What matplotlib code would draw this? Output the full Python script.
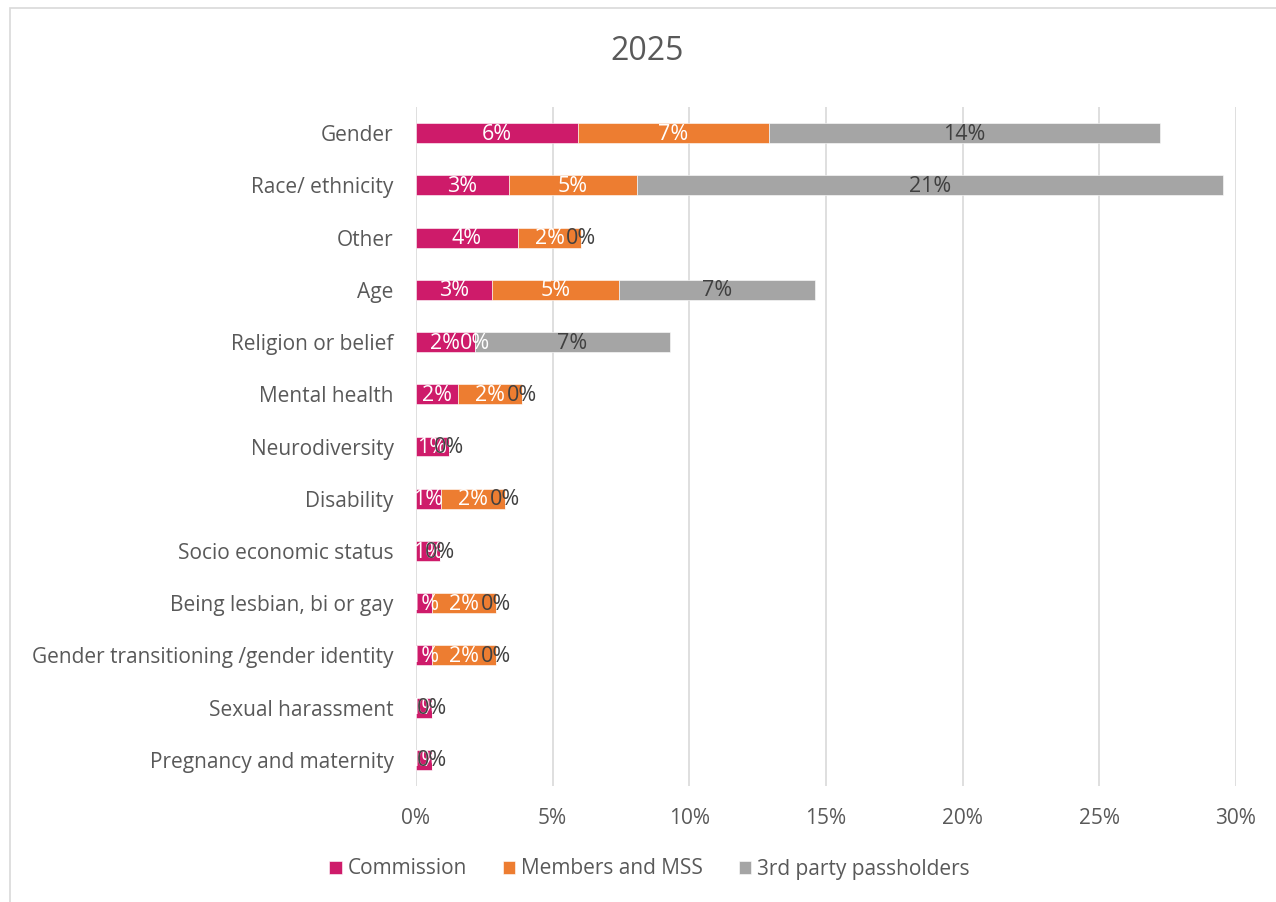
import numpy as np
import matplotlib
matplotlib.use('Agg')
import matplotlib.pyplot as plt
from matplotlib.patches import Rectangle
from matplotlib.ticker import FuncFormatter

plt.rcParams['font.family'] = ['Open Sans', 'DejaVu Sans']

# ─── Data (percent) ──────────────────────────────────────────────────────────
categories = ["Gender", "Race/ ethnicity", "Other", "Age", "Religion or belief",
              "Mental health", "Neurodiversity", "Disability", "Socio economic status",
              "Being lesbian, bi or gay", "Gender transitioning /gender identity",
              "Sexual harassment", "Pregnancy and maternity"]
commission = [5.93, 3.40, 3.73, 2.78, 2.15, 1.54, 1.21, 0.90, 0.89, 0.57, 0.57, 0.60, 0.60]
members = [6.99, 4.67, 2.32, 4.65, 0.0, 2.33, 0.0, 2.34, 0.0, 2.34, 2.34, 0.0, 0.0]
third_party = [14.30, 21.45, 0.0, 7.17, 7.16, 0.0, 0.0, 0.0, 0.0, 0.0, 0.0, 0.0, 0.0]

series = [("Commission", commission, '#CE1B6A', 'white'),
          ("Members and MSS", members, '#ED7D31', 'white'),
          ("3rd party passholders", third_party, '#A5A5A5', '#404040')]

TXT = '#595959'
GRID = '#D9D9D9'

W, H = 1276, 902
fig = plt.figure(figsize=(W / 100, H / 100), dpi=100)
ax = fig.add_axes([416 / W, 1 - 786 / H, 820 / W, 679 / H])

y = np.arange(len(categories))
left = np.zeros(len(categories))
for name, vals, col, tcol in series:
    vals = np.array(vals)
    ax.barh(y, vals, left=left, height=0.38, color=col, edgecolor='white',
            linewidth=0.4, label=name, zorder=2)
    for yi, (l, v) in enumerate(zip(left, vals)):
        ax.text(l + v / 2, yi + 0.02, f"{v:.0f}%", ha='center', va='center',
                fontsize=15.5, color=tcol, zorder=5)
    left = left + vals

ax.set_xlim(0, 30)
ax.set_ylim(len(categories) - 0.5, -0.5)
ax.set_xticks(np.arange(0, 31, 5))
ax.xaxis.set_major_formatter(FuncFormatter(lambda v, p: f"{v:.0f}%"))
ax.set_yticks(y)
ax.set_yticklabels(categories)
ax.tick_params(axis='both', length=0, labelsize=15, labelcolor=TXT)
ax.tick_params(axis='y', pad=16)
ax.tick_params(axis='x', pad=16)
ax.grid(axis='x', color=GRID, linewidth=1.2, zorder=0)
ax.set_axisbelow(True)
for s in ax.spines.values():
    s.set_visible(False)

fig.text(647 / W, 1 - 52 / H, "2025", ha='center', va='center', fontsize=23, color=TXT)

fig.legend(loc='center', bbox_to_anchor=(0.509, 1 - 869 / H), ncol=3, frameon=False,
           fontsize=15, handlelength=0.6, handleheight=0.6, handletextpad=0.3,
           columnspacing=1.7, labelcolor=TXT)

fig.patches.append(Rectangle((9.5 / W, -0.05), 1.2, 1.05 - 8 / H, transform=fig.transFigure,
                             fill=False, edgecolor=GRID, linewidth=1.2))

fig.savefig('out.png', dpi=100, facecolor='white')
